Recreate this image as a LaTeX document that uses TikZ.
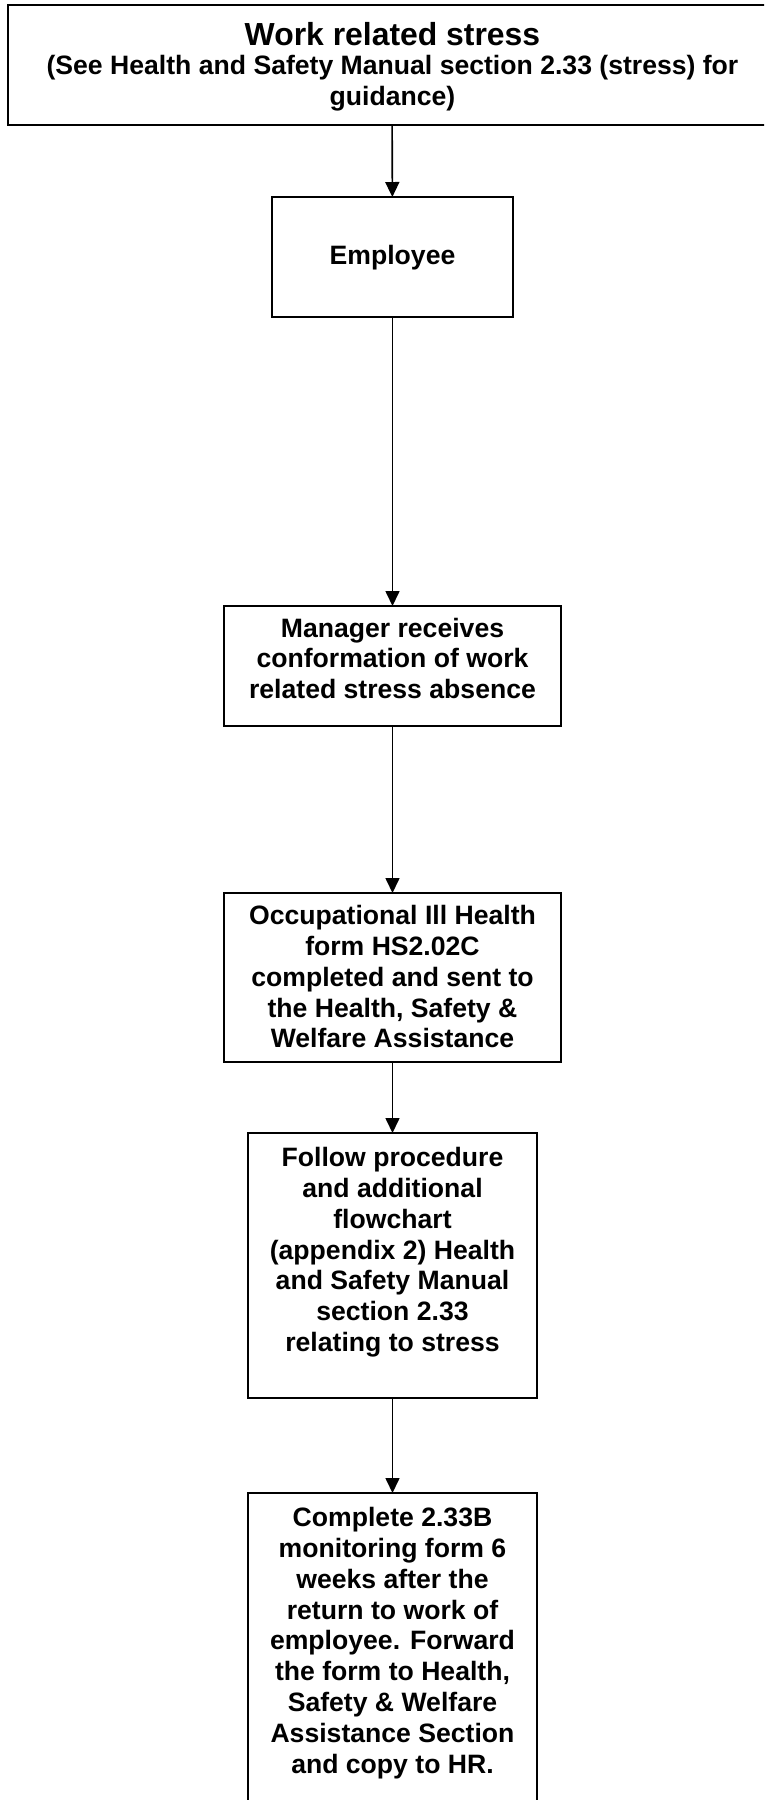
\documentclass[tikz,border=0pt]{standalone}
\usepackage{fontspec}
\setmainfont{Liberation Sans}
\usetikzlibrary{arrows.meta}
\begin{document}
\begin{tikzpicture}[x=1pt,y=-1pt,
  box/.style={draw, line width=1.6pt, rectangle, inner sep=0pt, outer sep=0pt},
  txt/.style={inner sep=0pt, outer sep=0pt, align=center, anchor=north,
    font=\bfseries\fontsize{26.6}{30.8}\selectfont,
    execute at begin node={\rule{0pt}{21.6pt}}},
  flow/.style={line width=1.6pt, -{Triangle[length=15pt,width=14pt]}}]
\useasboundingbox (0,0) rectangle (764,1800);
\fill[white] (0,0) rectangle (764,1800);
\clip (0,0) rectangle (764,1800);

% boxes
\node[box, minimum width=768pt, minimum height=120pt] (head) at (392,65) {};
\node[box, minimum width=241pt, minimum height=120pt] (emp) at (392.5,257) {};
\node[box, minimum width=337pt, minimum height=120pt] (mgr) at (392.5,666) {};
\node[box, minimum width=337pt, minimum height=169pt] (occ) at (392.5,977.5) {};
\node[box, minimum width=289pt, minimum height=265pt] (follow) at (392.5,1265.5) {};
\node[box, minimum width=289pt, minimum height=337pt] (complete) at (392.5,1661.5) {};

% texts
\node[inner sep=0pt, anchor=base, font=\bfseries\fontsize{31.9}{36}\selectfont] (title) at (392.5,45) {Work related stress};
\node[txt] (subtitle) at (392.5,55.4) {(See Health and Safety Manual section 2.33 (stress) for\\guidance)};
\node[inner sep=0pt, anchor=base, font=\bfseries\fontsize{26.6}{30.8}\selectfont] (empt) at (392.5,264) {Employee};
\node[txt] (mgrt) at (392.5,617.9) {Manager receives\\conformation of work\\related stress absence};
\node[txt] (occt) at (392.5,905.4) {Occupational Ill Health\\form HS2.02C\\completed and sent to\\the Health, Safety \&\\Welfare Assistance};
\node[txt] (followt) at (392.5,1147.4) {Follow procedure\\and additional\\flowchart\\(appendix 2) Health\\and Safety Manual\\section 2.33\\relating to stress};
\node[txt] (completet) at (392.5,1507.4) {Complete 2.33B\\monitoring form 6\\weeks after the\\return to work of\\employee. Forward\\the form to Health,\\Safety \& Welfare\\Assistance Section\\and copy to HR.};

% connectors
\draw[flow] (head) -- (emp);
\draw[flow] (emp) -- (mgr);
\draw[flow] (mgr) -- (occ);
\draw[flow] (occ) -- (follow);
\draw[flow] (follow) -- (complete);
\end{tikzpicture}
\end{document}
